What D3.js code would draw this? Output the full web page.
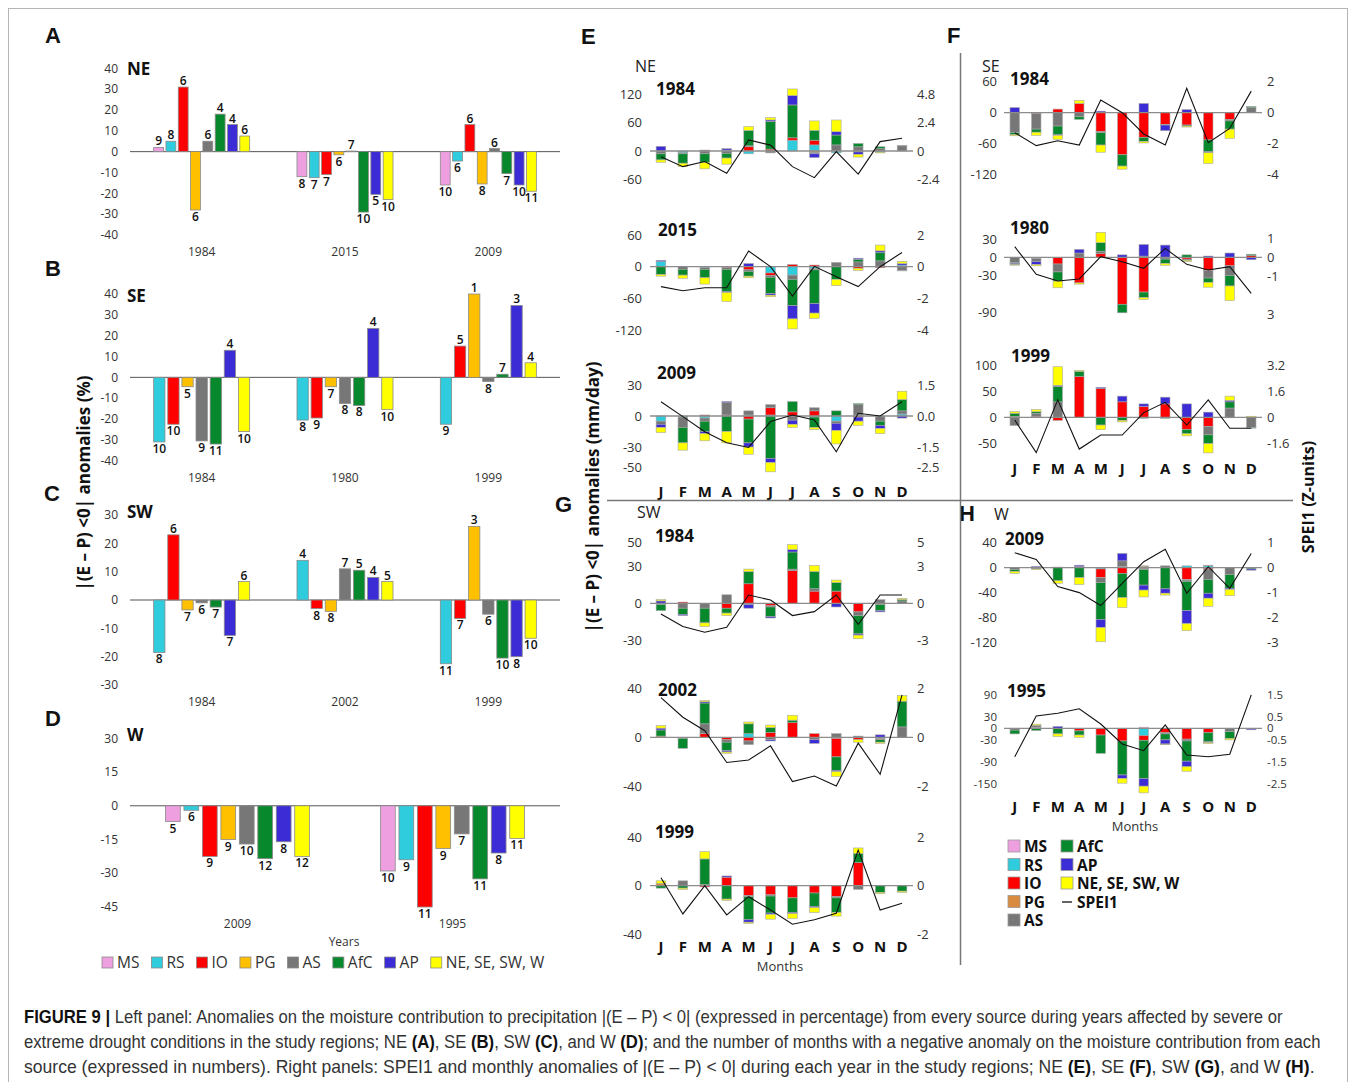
<!DOCTYPE html>
<html>
<head>
<meta charset="utf-8">
<script src="https://cdnjs.cloudflare.com/ajax/libs/d3/7.8.5/d3.min.js"></script>
<style>
  body { margin: 0; background: #fff; }
  text { font-family: "Open Sans", "Liberation Sans", sans-serif; }
</style>
</head>
<body>
<div id="fig"></div>
<script>
// Sources of moisture, in stacking / legend order
const sources = ["MS", "RS", "IO", "PG", "AS", "AfC", "AP", "NE"];
const legendNames = ["MS", "RS", "IO", "PG", "AS", "AfC", "AP", "NE, SE, SW, W"];
const colors = {MS: "#EE9FE0", RS: "#2FCCDD", IO: "#FF0000", PG: "#FFC000",
                AS: "#777777", AfC: "#07882C", AP: "#3B2CD6", NE: "#FFFF00"};
const pgStackColor = "#D98B3F";

// ---- Left panels: anomalies (%) and number of negative months ----
const yearsNE = ["1984", "2015", "2009"];
const pctNE = [[2, 5, 31, -28, 5, 18, 13, 7.5],
               [-12, -12.5, -11, -1.5, 0.3, -29, -20.5, -23],
               [-16, -4.5, 13, -15.5, 1.5, -10.5, -16, -19]];
const monthsNE = [[9, 8, 6, 6, 6, 4, 4, 6], [8, 7, 7, 6, 7, 10, 5, 10], [10, 6, 6, 8, 6, 7, 10, 11]];

const srcNoMS = ["RS", "IO", "PG", "AS", "AfC", "AP", "NE"];
const yearsSE = ["1984", "1980", "1999"];
const pctSE = [[-31, -22.5, -4.5, -30.5, -32, 13, -26],
               [-20.5, -19.5, -4.5, -12.5, -13.5, 23.5, -15.5],
               [-22.5, 15, 40, -2, 1.5, 34.5, 7]];
const monthsSE = [[10, 10, 5, 9, 11, 4, 10], [8, 9, 7, 8, 8, 4, 10], [9, 5, 1, 8, 7, 3, 4]];

const yearsSW = ["1984", "2002", "1999"];
const pctSW = [[-18.5, 23, -3.5, -1, -2.5, -12.5, 6.5],
               [14, -3, -4, 11, 10.5, 8, 6.5],
               [-22.5, -6.5, 26, -5, -20.5, -20, -13.5]];
const monthsSW = [[8, 6, 7, 6, 7, 7, 6], [4, 8, 8, 7, 5, 4, 5], [11, 7, 3, 6, 10, 8, 10]];

const yearsW = ["2009", "1995"];
const pctW = [[-7, -2, -22.5, -15, -17, -23.5, -16, -22.5],
              [-29, -24, -45, -19, -12.5, -32.5, -21, -14.5]];
const monthsW = [[5, 6, 9, 9, 10, 12, 8, 12], [10, 9, 11, 9, 7, 11, 8, 11]];

// ---- Right panels: monthly anomalies (mm/day), rows = months, cols = sources ----
const monthLabels = ["J", "F", "M", "A", "M", "J", "J", "A", "S", "O", "N", "D"];

const ne1984 = [[0,0,0,0,-6,-13,10,-5],[0,-4,0,0,-2,-20,0,-7],[0,0,2,0,-6,-18,0,-14],[0,2,0,0,-5,-10,3,-13],
                [0,-6,9,0,2,33,0,8],[0,0,4,0,-4,59,3,5],[0,23,5,0,0,70,20,14],[0,13,10,-3,-3,21,-8,20],
                [0,-4,0,0,13,21,7,25],[0,0,-2,0,9,7,-5,-6],[0,-2,0,0,5,4,0,-2],[0,0,0,0,11,1,0,0]];
const ne1984Spei = [-0.48, -1.33, -0.9, -1.9, 0.94, 0.5, -1.33, -2.27, -0.05, -1.96, 0.8, 1.08];

const ne2015 = [[0,10,0,0,0,-15,2,-3],[0,0,0,0,-5,-11,0,-6],[0,-2,0,0,-3,-16,0,-12],[0,0,-2,0,-3,-42,-2,-17],
                [0,0,-6,0,-3,-9,6,-3],[0,-12,-5,0,-3,-31,-3,-3],[0,-16,4,0,-8,-50,-25,-19],[0,-4,3,0,-2,-64,-18,-10],
                [0,0,0,0,8,-24,0,-12],[0,0,-3,0,9,5,2,-4],[0,0,-2,0,11,16,3,11],[0,3,0,0,-7,-1,3,4]];
const ne2015Spei = [-1.26, -1.52, -1.33, -1.33, 0.99, 0, -1.85, 0.02, -0.63, -1.26, 0, 0.9];

const ne2009 = [[0,-5,0,0,-3,0,-3,-5],[0,-1,0,0,-10,-15,0,-7],[0,-2,1,0,-3,-10,-2,-7],[0,0,1,0,12,-15,1,-11],
                [0,1,-3,0,4,-23,-4,-7],[0,1,7,0,3,-41,-4,-9],[0,0,4,0,-4,10,-4,-3],[0,-1,5,0,3,-10,0,-2],
                [0,-5,0,0,-2,5,-7,-13],[0,1,-1,0,10,1,-4,-4],[0,0,0,0,-5,-4,-3,-5],[0,2,0,0,3,11,-2,8]];
const ne2009Spei = [0.69, -0.03, -0.76, -1.29, -1.52, -0.27, 0.05, -0.19, -1.73, 0.13, 0, 0.69];

const sw1984 = [[0,0,0,0,-1,-5,2,1],[0,0,1,0,-4,-5,-1,0],[0,0,0,0,-4,-12,0,-3],[0,0,-4,0,7,-4,0,-2],
                [0,-1,16,0,0,10,-3,2],[0,0,-2,0,-1,-8,-1,0],[0,0,27,0,1,14,2,4],[0,0,10,0,2,14,0,5],
                [0,0,10,0,0,7,-3,2],[0,0,-7,0,-3,-15,-1,-3],[0,0,-1,0,3,-5,-1,0],[0,0,0,0,2,1,0,1]];
const sw1984Spei = [-0.87, -1.9, -2.37, -1.96, 0.68, 0.27, -1.0, -0.68, 0.68, -1.72, 0.68, 0.68];

const sw2002 = [[0,0,0,1,0,5,1.5,2],[0,0,0,0,-1,-8,0,0],[0,0,3,0,8,17,1,1],[0,0,-2,0,-2,-7,-1,-1],
                [0,3,-3,0,-3,8,0,1.5],[0,0,4,0,-2,4,-1,2],[0,0,12,0,0,2,0,4],[0,0,3,0,-2,0,-3,0],
                [0,-1,-15,0,3,-11,-1,-4],[0,0,-2,0,1,0,0,-2],[0,0,-1,0,-1,-2,2,-1],[0,0,0,0,8.5,21,0,4.5]];
const sw2002Spei = [1.62, 0.82, 0.27, -1.03, -0.93, -0.35, -1.81, -1.58, -1.99, -0.24, -1.51, 1.73];

const sw1999 = [[0,0,0,2,0,-2,0,2],[0,0,0,0,4,-2,0,-1],[0,0,-1,0,1,21,0,6],[0,0,7,0,0,-11,1,-1],
                [0,0,-8,0,-1,-19,-2,-1],[0,0,-7.5,0,-1,-14,-1,-4],[0,0,-10,0,0,-12,-1,-4],[0,0,-6,0,0,-11,-1,-4],
                [0,0,-9,0,-1,-12,0,-3],[0,0,19,0,-3,7.5,0,4.5],[0,0,0,0,0,-5.5,0,-1],[0,0,0,0,0,-4.5,0,-1]];
const sw1999Spei = [0.33, -1.16, 0, -1.2, -0.45, -1.0, -1.58, -1.4, -1.13, 1.46, -1.0, -0.72];

const se1984 = [[0,0,0,0,-39,-4,10,-2],[0,0,-2,0,-30,-6,0,-6],[0,0,7,0,-26,-17,-1,-8],[0,0,18,0,-8,-5,0,6],
                [0,0,-37,0,-2,-24,3,-14],[0,0,-82,0,0,-22,0,-6],[0,0,-48,0,0,-8,18,-3],[0,0,-23,0,0,-1,-11,0],
                [0,0,-24,0,0,-2,6,-2],[0,0,-53,0,0,-23,-2,-21],[0,0,-13,0,-3,-16,0,-18],[0,0,0,0,10,2,0,0]];
const se1984Spei = [-1.3, -2.14, -1.82, -2.1, 0.82, 0, -1.38, -2.1, 1.58, -1.95, -1.02, 1.4];

const se1980 = [[0,0,0,0,-9,-1,-2,-1],[0,-2,0,0,-5,0,-5,-2],[0,0,-11,0,-13,-15,0,-11],[0,0,-42,0,7,0,6,-2],
                [0,0,6,0,4,14,0,17],[0,0,-77,0,0,-14,4,0],[0,0,-57,0,2,-9,19,-3],[0,0,0,0,-3,-7,20,-3],
                [0,0,-3,0,-2,4,0,-2],[0,0,-22,0,-12,-7,2,-8],[0,0,-14,0,-16,-17,7,-24],[0,0,3,0,0,2,-4,0]];
const se1980Spei = [0.56, -0.9, -1.25, -1.14, 0.03, -0.23, -0.58, 0.47, -0.37, -0.67, -0.49, -1.9];

const se1999 = [[0,0,0,2,-16,6,0,3],[0,0,2,0,6,3,0,4],[0,0,-6,0,30,30,2,36],[0,0,79,0,0,10,0,2],
                [0,0,56,0,0,-15,2,-9],[0,0,30,0,0,-6,11,-3],[0,0,21,0,-2,0,5,0],[0,0,26,0,0,-2,13,0],
                [0,0,-24,0,0,-8,26,-4],[0,0,-18,0,-16,-17,10,-18],[0,0,-1,0,18,12,3,8],[0,0,0,0,-20,-1,0,2]];
const se1999Spei = [-0.17, -2.19, 1.08, -1.97, -1.1, -1.1, 0.29, 0.93, -0.48, 1.08, -0.68, -0.68];

const w2009 = [[0,0,0,0,-3,-3,0,-3],[0,0,0,0,-2,0,2,-1],[0,0,0,0,0,-21,1,-4],[0,0,1,0,1,-16,2,-11],
               [0,-2,-14,0,-8,-59,-13,-23],[0,0,-9,2,9,-39,12,-16],[0,2,-1,1,-2,-25,-8,-11],[0,0,0,0,3,-34,-7,-3],
               [0,3,-19,-1,-2,-47,-21,-11],[0,3,-2,1,-17,-22,-8,-13],[0,0,0,0,-11,-22,-2,-10],[0,0,0,0,0,-2,-2,0]];
const w2009Spei = [0.6, 0.33, -0.76, -1.0, -1.52, -0.63, 0.24, 0.74, -1.03, 0.04, -0.83, 0.57];

const w1995 = [[0,0,0,0,-5,-10,0,0],[3,0,0,0,5,-6,0,3],[0,0,0,0,0,-15,5,-7],[0,0,-7,0,0,-11,0,-6],
               [0,0,-18,0,0,-49,0,0],[0,0,-34,0,0,-91,-9,-13],[3,-20,-12,0,0,-103,-20,-18],[0,0,-12,0,-3,-16,-11,-2],
               [0,0,-29,0,-5,-54,-15,-12],[0,0,-12,0,0,-24,-2,-3],[0,0,0,0,-9,-18,0,-4],[0,0,0,0,0,0,-4,0]];
const w1995Spei = [-1.27, 0.55, 0.67, 0.87, 0.19, -0.7, -1.0, 0.15, -1.19, -1.27, -1.16, 1.49];

const W = 1356, H = 1082;
const svg = d3.select("#fig").append("svg").attr("width", W).attr("height", H);

// outer frame
svg.append("rect").attr("x", 8.5).attr("y", 8.5).attr("width", 1339).attr("height", 1100)
    .attr("fill", "none").attr("stroke", "#b5b5b5").attr("stroke-width", 1);

function letter(t, x, y) {
    svg.append("text").attr("x", x).attr("y", y).text(t)
        .style("font-family", "'Liberation Sans', Arial, sans-serif")
        .attr("font-size", 22).attr("font-weight", "bold").attr("fill", "#111");
}

/*
 * Left column: clustered bars per drought year
 */
function drawLeft(p) {
    const x = d3.scaleBand().domain(p.years).range([130, 560]);
    const y = d3.scaleLinear().domain(p.yDom).range(p.yRng);
    const frac = 0.67;
    const inner = d3.scaleBand().domain(p.series).range([0, x.bandwidth() * frac]).paddingInner(0.2);
    const off = x.bandwidth() * (1 - frac) / 2;

    svg.append("g").selectAll("text").data(p.ticks).join("text")
        .attr("x", 118).attr("y", d => y(d)).attr("dy", "0.35em")
        .attr("text-anchor", "end").attr("font-size", 12).attr("fill", "#333")
        .text(d => d);

    svg.append("line").attr("x1", 130).attr("x2", 560)
        .attr("y1", y(0)).attr("y2", y(0)).attr("stroke", "#555").attr("stroke-width", 1);

    p.years.forEach((yr, i) => {
        const g = svg.append("g").attr("transform", `translate(${x(yr) + off},0)`);
        const rows = p.series.map((s, j) => ({s: s, v: p.values[i][j], n: p.months[i][j]}));
        g.selectAll("rect").data(rows).join("rect")
            .attr("x", d => inner(d.s))
            .attr("y", d => Math.min(y(d.v), y(0)))
            .attr("width", inner.bandwidth())
            .attr("height", d => Math.abs(y(d.v) - y(0)))
            .attr("fill", d => colors[d.s])
            .attr("stroke", "#8a8a8a").attr("stroke-width", 0.8);
        g.selectAll("text").data(rows).join("text")
            .attr("x", d => inner(d.s) + inner.bandwidth() / 2)
            .attr("y", d => d.v >= 0 ? y(d.v) - 2 : y(d.v) + 11)
            .attr("text-anchor", "middle").attr("font-size", 12).attr("font-weight", 600)
            .attr("fill", "#111")
            .text(d => d.n);
        svg.append("text").attr("x", x(yr) + x.bandwidth() / 2).attr("y", p.yearY)
            .attr("text-anchor", "middle").attr("font-size", 12).attr("fill", "#333").text(yr);
    });

    svg.append("text").attr("x", 127).attr("y", p.nameY).text(p.name)
        .attr("font-size", 17).attr("font-weight", "bold").attr("fill", "#111");
}

drawLeft({years: yearsNE, series: sources, values: pctNE, months: monthsNE, name: "NE", nameY: 75,
          yDom: [-40, 40], yRng: [235, 68.3], ticks: d3.range(40, -41, -10), yearY: 256});
drawLeft({years: yearsSE, series: srcNoMS, values: pctSE, months: monthsSE, name: "SE", nameY: 302,
          yDom: [-40, 40], yRng: [460.7, 294], ticks: d3.range(40, -41, -10), yearY: 482});
drawLeft({years: yearsSW, series: srcNoMS, values: pctSW, months: monthsSW, name: "SW", nameY: 518,
          yDom: [-30, 30], yRng: [685, 515], ticks: d3.range(30, -31, -10), yearY: 706});
drawLeft({years: yearsW, series: sources, values: pctW, months: monthsW, name: "W", nameY: 741,
          yDom: [-45, 30], yRng: [907, 738.3], ticks: d3.range(30, -46, -15), yearY: 928});

letter("A", 45, 43);
letter("B", 45, 276);
letter("C", 44, 501);
letter("D", 45, 726);

svg.append("text").attr("x", 344).attr("y", 946).attr("text-anchor", "middle")
    .attr("font-size", 12).attr("fill", "#333").text("Years");

svg.append("text")
    .attr("transform", "translate(90,483) rotate(-90)")
    .attr("text-anchor", "middle").attr("font-size", 17).attr("font-weight", "bold").attr("fill", "#111")
    .text("|(E – P) <0| anomalies (%)");

// bottom legend for left panels
let lx = 102;
legendNames.forEach((name, i) => {
    svg.append("rect").attr("x", lx).attr("y", 957).attr("width", 11).attr("height", 11)
        .attr("fill", colors[sources[i]]).attr("stroke", "#8a8a8a").attr("stroke-width", 0.8);
    const t = svg.append("text").attr("x", lx + 15).attr("y", 968)
        .attr("font-size", 15.5).attr("fill", "#333").text(name);
    lx += 15 + t.node().getComputedTextLength() + 12;
});

/*
 * Right panels: monthly stacked anomalies + SPEI1 line
 */
function drawRight(p) {
    const x = d3.scaleBand().domain(d3.range(12)).range(p.xRng);
    const bw = x.bandwidth();
    const y = d3.scaleLinear().domain(p.yDom).range(p.yRng);
    const yr = d3.scaleLinear().domain(p.rDom).range(p.rRng || p.yRng);
    const fs = p.tickSize || 13;

    const table = p.rows.map(r => Object.fromEntries(sources.map((s, k) => [s, r[k]])));
    const layers = d3.stack().keys(sources).offset(d3.stackOffsetDiverging)(table);

    svg.append("g").selectAll("text").data(p.ticks).join("text")
        .attr("x", p.lx).attr("y", d => y(d)).attr("dy", "0.35em")
        .attr("text-anchor", "end").attr("font-size", fs).attr("fill", "#333").text(d => d);
    svg.append("g").selectAll("text").data(p.rTicks).join("text")
        .attr("x", p.rx).attr("y", d => yr(d)).attr("dy", "0.35em")
        .attr("font-size", fs).attr("fill", "#333").text((d, i) => p.rLabels[i]);

    const g = svg.append("g");
    layers.forEach(layer => {
        g.append("g").selectAll("rect")
            .data(layer.map((d, i) => ({i: i, y0: d[0], y1: d[1]})).filter(d => d.y1 !== d.y0))
            .join("rect")
            .attr("x", d => x(d.i) + bw * 0.28)
            .attr("width", bw * 0.44)
            .attr("y", d => y(d.y1))
            .attr("height", d => y(d.y0) - y(d.y1))
            .attr("fill", layer.key === "PG" ? pgStackColor : colors[layer.key])
            .attr("stroke", "#a8a8a8").attr("stroke-width", 0.6);
    });

    svg.append("line").attr("x1", p.xRng[0]).attr("x2", p.xRng[1])
        .attr("y1", y(0)).attr("y2", y(0)).attr("stroke", "#8c8c8c").attr("stroke-width", 1.3);

    svg.append("path").datum(p.spei)
        .attr("d", d3.line().x((d, i) => x(i) + bw / 2).y(d => yr(d)))
        .attr("fill", "none").attr("stroke", "#111").attr("stroke-width", 1.1);

    svg.append("text").attr("x", p.tx).attr("y", p.ty).text(p.title)
        .attr("font-size", 17).attr("font-weight", "bold").attr("fill", "#111");

    if (p.monthY) {
        svg.append("g").selectAll("text").data(monthLabels).join("text")
            .attr("x", (d, i) => x(i) + bw / 2).attr("y", p.monthY)
            .attr("text-anchor", "middle").attr("font-size", 15).attr("font-weight", "bold")
            .attr("fill", "#111").text(d => d);
    }
}

const xE = [650, 913], xF = [1004, 1262];

drawRight({rows: ne1984, spei: ne1984Spei, title: "1984", tx: 656, ty: 95, xRng: xE, lx: 642, rx: 917,
           yDom: [-60, 120], yRng: [179.2, 94.6], ticks: [120, 60, 0, -60],
           rDom: [-2.4, 4.8], rTicks: [4.8, 2.4, 0, -2.4], rLabels: ["4.8", "2.4", "0", "-2.4"]});
drawRight({rows: ne2015, spei: ne2015Spei, title: "2015", tx: 658, ty: 236, xRng: xE, lx: 642, rx: 917,
           yDom: [-120, 60], yRng: [330, 235], ticks: [60, 0, -60, -120],
           rDom: [-4, 2], rTicks: [2, 0, -2, -4], rLabels: ["2", "0", "-2", "-4"]});
drawRight({rows: ne2009, spei: ne2009Spei, title: "2009", tx: 657, ty: 379, xRng: xE, lx: 642, rx: 917,
           yDom: [-50, 30], yRng: [467.7, 385], ticks: [30, 0, -30, -50],
           rDom: [-2.5, 1.5], rTicks: [1.5, 0, -1.5, -2.5], rLabels: ["1.5", "0.0", "-1.5", "-2.5"], monthY: 497});
drawRight({rows: sw1984, spei: sw1984Spei, title: "1984", tx: 655, ty: 542, xRng: xE, lx: 642, rx: 917,
           yDom: [-30, 50], yRng: [640, 542.2], ticks: [50, 30, 0, -30],
           rDom: [-3, 5], rTicks: [5, 3, 0, -3], rLabels: ["5", "3", "0", "-3"]});
drawRight({rows: sw2002, spei: sw2002Spei, title: "2002", tx: 658, ty: 696, xRng: xE, lx: 642, rx: 917,
           yDom: [-40, 40], yRng: [786.3, 688.3], ticks: [40, 0, -40],
           rDom: [-2, 2], rTicks: [2, 0, -2], rLabels: ["2", "0", "-2"]});
drawRight({rows: sw1999, spei: sw1999Spei, title: "1999", tx: 655, ty: 838, xRng: xE, lx: 642, rx: 917,
           yDom: [-40, 40], yRng: [934.4, 837], ticks: [40, 0, -40],
           rDom: [-2, 2], rTicks: [2, 0, -2], rLabels: ["2", "0", "-2"], monthY: 952});

drawRight({rows: se1984, spei: se1984Spei, title: "1984", tx: 1010, ty: 85, xRng: xF, lx: 997, rx: 1267,
           yDom: [-120, 60], yRng: [174.3, 81.9], ticks: [60, 0, -60, -120],
           rDom: [-4, 2], rTicks: [2, 0, -2, -4], rLabels: ["2", "0", "-2", "-4"]});
drawRight({rows: se1980, spei: se1980Spei, title: "1980", tx: 1010, ty: 234, xRng: xF, lx: 997, rx: 1267,
           yDom: [-90, 30], yRng: [312.2, 239], ticks: [30, 0, -30, -90],
           rDom: [-3, 1], rRng: [314.3, 238.3], rTicks: [1, 0, -1, -3], rLabels: ["1", "0", "-1", "3"]});
drawRight({rows: se1999, spei: se1999Spei, title: "1999", tx: 1011, ty: 362, xRng: xF, lx: 997, rx: 1267,
           yDom: [-50, 100], yRng: [443.1, 365.7], ticks: [100, 50, 0, -50],
           rDom: [-1.6, 3.2], rTicks: [3.2, 1.6, 0, -1.6], rLabels: ["3.2", "1.6", "0", "-1.6"], monthY: 474});
drawRight({rows: w2009, spei: w2009Spei, title: "2009", tx: 1005, ty: 545, xRng: xF, lx: 997, rx: 1267,
           yDom: [-120, 40], yRng: [642.4, 542.8], ticks: [40, 0, -40, -80, -120],
           rDom: [-3, 1], rTicks: [1, 0, -1, -2, -3], rLabels: ["1", "0", "-1", "-2", "-3"]});
drawRight({rows: w1995, spei: w1995Spei, title: "1995", tx: 1007, ty: 697, xRng: xF, lx: 997, rx: 1267,
           yDom: [-150, 90], yRng: [784.3, 694.7], ticks: [90, 30, 0, -30, -90, -150], tickSize: 11.5,
           rDom: [-2.5, 1.5], rTicks: [1.5, 0.5, 0, -0.5, -1.5, -2.5],
           rLabels: ["1.5", "0.5", "0", "-0.5", "-1.5", "-2.5"], monthY: 812});

// region names and panel letters
[["NE", 635, 72], ["SE", 982, 72], ["SW", 637, 518], ["W", 994, 520]].forEach(d => {
    svg.append("text").attr("x", d[1]).attr("y", d[2]).text(d[0])
        .attr("font-size", 16).attr("fill", "#222");
});
letter("E", 581, 44);
letter("F", 947, 43);
letter("G", 555, 512);
letter("H", 959, 521);

// separators
svg.append("line").attr("x1", 960.5).attr("x2", 960.5).attr("y1", 53).attr("y2", 965)
    .attr("stroke", "#777").attr("stroke-width", 1.5);
svg.append("line").attr("x1", 607).attr("x2", 1293).attr("y1", 500.5).attr("y2", 500.5)
    .attr("stroke", "#777").attr("stroke-width", 1.5);

// axis titles
svg.append("text").attr("transform", "translate(599,497) rotate(-90)")
    .attr("text-anchor", "middle").attr("font-size", 17).attr("font-weight", "bold").attr("fill", "#111")
    .text("|(E – P) <0| anomalies (mm/day)");
svg.append("text").attr("transform", "translate(1314,497) rotate(-90)")
    .attr("text-anchor", "middle").attr("font-size", 16).attr("font-weight", "bold").attr("fill", "#111")
    .text("SPEI1 (Z-units)");
svg.append("text").attr("x", 780).attr("y", 971).attr("text-anchor", "middle")
    .attr("font-size", 13).attr("fill", "#333").text("Months");
svg.append("text").attr("x", 1135).attr("y", 831).attr("text-anchor", "middle")
    .attr("font-size", 13).attr("fill", "#333").text("Months");

// right legend (two columns)
const legendRight = [[0, 0], [0, 1], [0, 2], [0, 3], [0, 4], [1, 0], [1, 1], [1, 2]];
sources.forEach((s, i) => {
    const c = legendRight[i];
    const lx0 = 1008 + c[0] * 53, ly = 846 + c[1] * 18.5;
    svg.append("rect").attr("x", lx0).attr("y", ly - 6).attr("width", 12).attr("height", 12)
        .attr("fill", s === "PG" ? pgStackColor : colors[s]).attr("stroke", "#999").attr("stroke-width", 0.8);
    svg.append("text").attr("x", lx0 + 16).attr("y", ly + 6).text(legendNames[i])
        .attr("font-size", 15.5).attr("font-weight", "bold").attr("fill", "#111");
});
svg.append("line").attr("x1", 1062).attr("x2", 1072).attr("y1", 902).attr("y2", 902)
    .attr("stroke", "#111").attr("stroke-width", 1.3);
svg.append("text").attr("x", 1077).attr("y", 908).text("SPEI1")
    .attr("font-size", 15.5).attr("font-weight", "bold").attr("fill", "#111");

// caption: each line squeezed horizontally to the reference width
const captionLines = [
    {y: 1023, len: 1259, parts: [["FIGURE 9 | ", 1], ["Left panel: Anomalies on the moisture contribution to precipitation |(E – P) < 0| (expressed in percentage) from every source during years affected by severe or", 0]]},
    {y: 1048, len: 1297, parts: [["extreme drought conditions in the study regions; NE ", 0], ["(A)", 1], [", SE ", 0], ["(B)", 1], [", SW ", 0], ["(C)", 1], [", and W ", 0], ["(D)", 1], ["; and the number of months with a negative anomaly on the moisture contribution from each", 0]]},
    {y: 1073, len: 1292, parts: [["source (expressed in numbers). Right panels: SPEI1 and monthly anomalies of |(E – P) < 0| during each year in the study regions; NE ", 0], ["(E)", 1], [", SE ", 0], ["(F)", 1], [", SW ", 0], ["(G)", 1], [", and W ", 0], ["(H)", 1], [".", 0]]}
];
captionLines.forEach(line => {
    const g = svg.append("g");
    const t = g.append("text").attr("x", 0).attr("y", 0)
        .style("font-family", "'Liberation Sans', Arial, sans-serif")
        .attr("font-size", 17.5).attr("fill", "#333");
    line.parts.forEach(pt => {
        t.append("tspan").text(pt[0])
            .attr("font-weight", pt[1] ? "bold" : "normal")
            .attr("fill", pt[1] ? "#111" : "#333");
    });
    const natural = t.node().getComputedTextLength();
    g.attr("transform", `translate(24,${line.y}) scale(${line.len / natural},1)`);
});
</script>
</body>
</html>
